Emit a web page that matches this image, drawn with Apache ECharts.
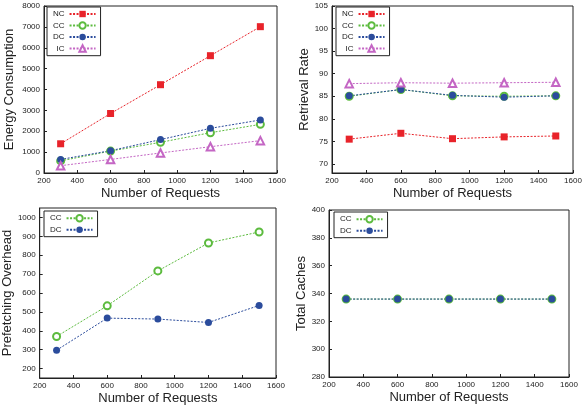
<!DOCTYPE html>
<html>
<head>
<meta charset="utf-8">
<script src="https://cdn.jsdelivr.net/npm/echarts@6/dist/echarts.min.js"></script>
<style>
  html, body { margin: 0; padding: 0; background: #fff; }
  #main { width: 585px; height: 406px; }
</style>
</head>
<body>
<div id="main"></div>
<script>
// x values shared by all panels
const requests = [300, 600, 900, 1200, 1500]

// Energy Consumption
const energyNC = [1400, 2850, 4230, 5620, 7010]
const energyCC = [580, 1050, 1470, 1930, 2330]
const energyDC = [650, 1070, 1600, 2140, 2540]
const energyIC = [350, 650, 960, 1260, 1550]

// Retrieval Rate
const rateNC = [75.5, 76.8, 75.6, 76.0, 76.2]
const rateCC = [85.0, 86.5, 85.1, 85.0, 85.1]
const rateDC = [85.1, 86.5, 85.2, 84.8, 85.1]
const rateIC = [87.8, 88.0, 87.9, 88.0, 88.1]

// Prefetching Overhead
const overheadCC = [370, 532, 717, 865, 923]
const overheadDC = [297, 467, 462, 444, 534]

// Total Caches
const cachesCC = [336, 336, 336, 336, 336]
const cachesDC = [336, 336, 336, 336, 336]

// tick labels
const rateTicks = [70, 75, 80, 85, 90, 95, 100, 105]
const overheadTicks = [200, 300, 400, 500, 600, 700, 800, 900, 1000]

const colors = { NC: '#e8232a', CC: '#5cbb3e', DC: '#2b4c9c', IC: '#c466c4' }
const symbols = { NC: 'rect', CC: 'emptyCircle', DC: 'circle', IC: 'emptyTriangle' }

const font = 'Liberation Sans, Arial, sans-serif'
const tickFont = { fontSize: 8, color: '#222', fontFamily: font, margin: 4, formatter: v => String(v) }
const tickStyle = { show: true, inside: true, length: 3, lineStyle: { color: '#222' } }

function pts(vals) {
  return vals.map((v, i) => [requests[i], v])
}

function line(name, vals, idx) {
  return {
    name: name,
    type: 'line',
    xAxisIndex: idx,
    yAxisIndex: idx,
    data: pts(vals),
    symbol: symbols[name],
    symbolSize: name === 'IC' ? 7.5 : 7,
    color: colors[name],
    itemStyle: { color: colors[name], borderWidth: 1 },
    lineStyle: { width: 1, type: [2, 1.5], color: colors[name] },
    animation: false
  }
}

function xAxis(idx) {
  return {
    gridIndex: idx,
    type: 'value',
    min: 200,
    max: 1600,
    interval: 200,
    name: 'Number of Requests',
    nameLocation: 'middle',
    nameGap: 14,
    nameTextStyle: { fontSize: 13, color: '#222', fontFamily: font },
    axisLine: { show: true, lineStyle: { color: '#222', width: 1 } },
    axisTick: tickStyle,
    axisLabel: tickFont,
    splitLine: { show: false }
  }
}

function yAxis(idx, name, gap, opts) {
  return Object.assign({
    gridIndex: idx,
    type: 'value',
    name: name,
    nameLocation: 'middle',
    nameGap: gap,
    nameTextStyle: { fontSize: 13, color: '#222', fontFamily: font },
    axisLine: { show: true, lineStyle: { color: '#222', width: 1 } },
    axisTick: tickStyle,
    axisLabel: tickFont,
    splitLine: { show: false }
  }, opts)
}

function legend(names, left, top) {
  return {
    data: names,
    orient: 'vertical',
    left: left,
    top: top,
    align: 'right',
    itemWidth: 26,
    itemHeight: 8,
    itemGap: 3.3,
    itemTextGap: 4,
    padding: [3, 4, 3, 6],
    borderColor: '#222',
    borderWidth: 1,
    backgroundColor: '#fff',
    selectedMode: false,
    textStyle: { fontSize: 8, color: '#222', fontFamily: font, width: 12, align: 'right' }
  }
}

const chart = echarts.init(document.getElementById('main'), null, { renderer: 'canvas' })

const gridStyle = { show: true, borderColor: '#222', borderWidth: 1, containLabel: false }

chart.setOption({
  backgroundColor: '#fff',
  animation: false,
  grid: [
    Object.assign({ left: 44, top: 6, width: 233, height: 167 }, gridStyle),
    Object.assign({ left: 332, top: 6, width: 241, height: 167 }, gridStyle),
    Object.assign({ left: 39, top: 208, width: 237, height: 170 }, gridStyle),
    Object.assign({ left: 329, top: 210, width: 240, height: 167 }, gridStyle)
  ],
  xAxis: [xAxis(0), xAxis(1), xAxis(2), xAxis(3)],
  yAxis: [
    yAxis(0, 'Energy Consumption', 28, { min: 0, max: 8000, interval: 1000 }),
    yAxis(1, 'Retrieval Rate', 21, {
      min: 68, max: 105,
      axisTick: Object.assign({ customValues: rateTicks }, tickStyle),
      axisLabel: Object.assign({ customValues: rateTicks }, tickFont)
    }),
    yAxis(2, 'Prefetching Overhead', 25, {
      min: 150, max: 1050,
      axisTick: Object.assign({ customValues: overheadTicks }, tickStyle),
      axisLabel: Object.assign({ customValues: overheadTicks }, tickFont)
    }),
    yAxis(3, 'Total Caches', 21, { min: 280, max: 400, interval: 20 })
  ],
  legend: [
    legend(['NC', 'CC', 'DC', 'IC'], 47, 7),
    legend(['NC', 'CC', 'DC', 'IC'], 336, 7),
    legend(['CC', 'DC'], 44, 211),
    legend(['CC', 'DC'], 334, 212)
  ],
  series: [
    line('NC', energyNC, 0),
    line('CC', energyCC, 0),
    line('DC', energyDC, 0),
    line('IC', energyIC, 0),
    line('NC', rateNC, 1),
    line('CC', rateCC, 1),
    line('DC', rateDC, 1),
    line('IC', rateIC, 1),
    line('CC', overheadCC, 2),
    line('DC', overheadDC, 2),
    line('CC', cachesCC, 3),
    line('DC', cachesDC, 3)
  ]
})
</script>
</body>
</html>
